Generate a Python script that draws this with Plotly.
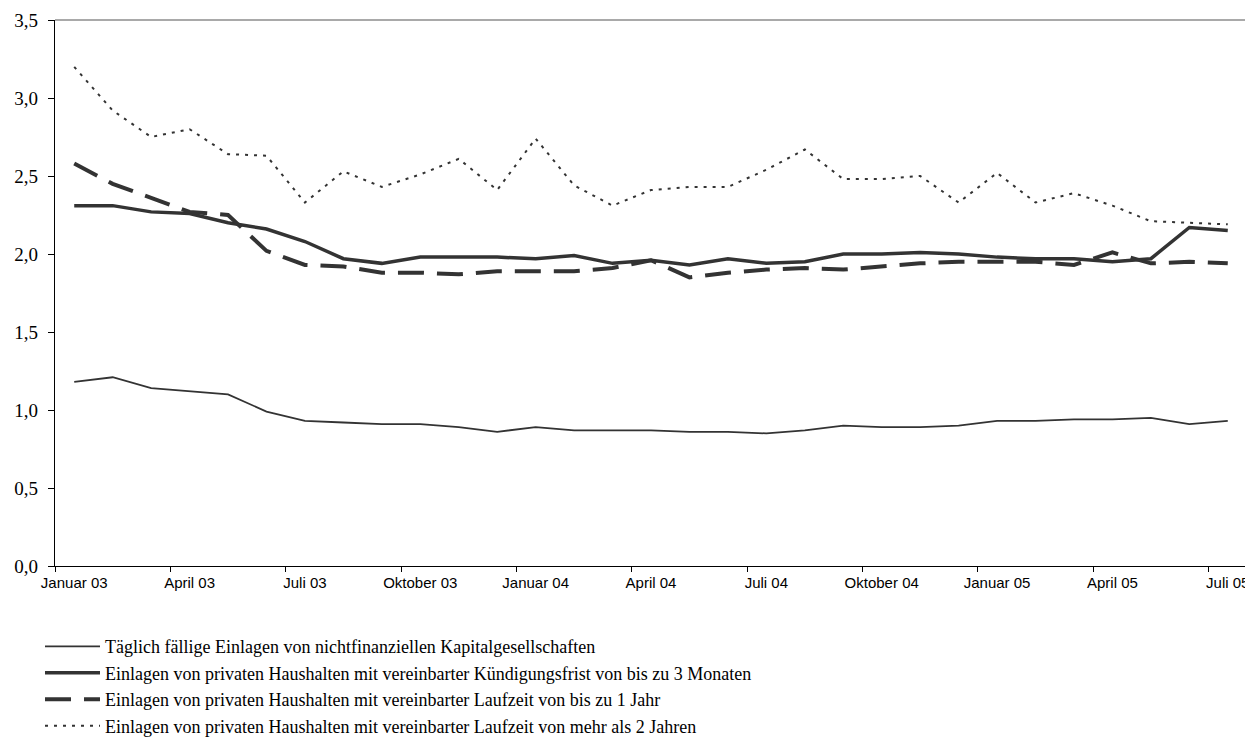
import plotly.graph_objects as go

months = ["Januar", "Februar", "März", "April", "Mai", "Juni", "Juli",
          "August", "September", "Oktober", "November", "Dezember"]
categories = [f"{m} {y:02d}" for y in (3, 4, 5) for m in months][:31]

names = [
    "Täglich fällige Einlagen von nichtfinanziellen Kapitalgesellschaften",
    "Einlagen von privaten Haushalten mit vereinbarter Kündigungsfrist von bis zu 3 Monaten",
    "Einlagen von privaten Haushalten mit vereinbarter Laufzeit von bis zu 1 Jahr",
    "Einlagen von privaten Haushalten mit vereinbarter Laufzeit von mehr als 2 Jahren",
]

taeglich = [1.18, 1.21, 1.14, 1.12, 1.10, 0.99, 0.93, 0.92, 0.91, 0.91, 0.89,
            0.86, 0.89, 0.87, 0.87, 0.87, 0.86, 0.86, 0.85, 0.87, 0.90, 0.89,
            0.89, 0.90, 0.93, 0.93, 0.94, 0.94, 0.95, 0.91, 0.93]
kuendigung = [2.31, 2.31, 2.27, 2.26, 2.20, 2.16, 2.08, 1.97, 1.94, 1.98, 1.98,
              1.98, 1.97, 1.99, 1.94, 1.96, 1.93, 1.97, 1.94, 1.95, 2.00, 2.00,
              2.01, 2.00, 1.98, 1.97, 1.97, 1.95, 1.97, 2.17, 2.15]
laufzeit_1j = [2.58, 2.45, 2.36, 2.27, 2.25, 2.02, 1.93, 1.92, 1.88, 1.88, 1.87,
               1.89, 1.89, 1.89, 1.91, 1.96, 1.85, 1.88, 1.90, 1.91, 1.90, 1.92,
               1.94, 1.95, 1.95, 1.95, 1.93, 2.01, 1.94, 1.95, 1.94]
laufzeit_2j = [3.20, 2.92, 2.75, 2.80, 2.64, 2.63, 2.33, 2.53, 2.43, 2.51, 2.61,
               2.41, 2.74, 2.44, 2.31, 2.41, 2.43, 2.43, 2.54, 2.67, 2.48, 2.48,
               2.50, 2.33, 2.52, 2.33, 2.39, 2.31, 2.21, 2.20, 2.19]

y_ticks = [0.0, 0.5, 1.0, 1.5, 2.0, 2.5, 3.0, 3.5]

series = [taeglich, kuendigung, laufzeit_1j, laufzeit_2j]
styles = [
    dict(width=1.8, dash="solid"),
    dict(width=3.5, dash="solid"),
    dict(width=4, dash="26px,13px"),
    dict(width=2, dash="3px,6px"),
]
color = "#333333"

fig = go.Figure()
for name, vals, st in zip(names, series, styles):
    fig.add_trace(go.Scatter(
        x=categories, y=vals, name=name, mode="lines",
        line=dict(color=color, width=st["width"], dash=st["dash"]),
        hoverinfo="x+y",
    ))

fig.update_layout(
    width=1245, height=734,
    margin=dict(l=47, r=6, t=12, b=176, autoexpand=False),
    separators=",.",
    plot_bgcolor="white", paper_bgcolor="white",
    showlegend=True,
    legend=dict(
        xref="container", yref="container",
        x=0.0257, y=0.155, xanchor="left", yanchor="top",
        font=dict(family="Liberation Serif", size=18, color="black"),
        bgcolor="rgba(0,0,0,0)", tracegroupgap=0, itemwidth=55,
    ),
    shapes=[
        dict(type="line", xref="paper", yref="paper", x0=0, x1=1, y0=1, y1=1,
             line=dict(color="#8c8c8c", width=1.5)),
        dict(type="line", xref="paper", yref="paper", x0=1, x1=1, y0=0, y1=1,
             line=dict(color="#8c8c8c", width=1.5)),
    ],
)

fig.update_xaxes(
    type="category", categoryorder="array", categoryarray=categories,
    range=[-0.5, 30.5], tickmode="linear", tick0=0, dtick=3,
    tickson="boundaries", ticks="outside", ticklen=5, tickcolor="black",
    showline=True, linecolor="black", linewidth=1.2,
    showgrid=False, zeroline=False, tickangle=0, ticklabelstandoff=3,
    tickfont=dict(family="Liberation Sans", size=15, color="black"),
)
fig.update_yaxes(
    range=[0, 3.5], tickmode="array", tickvals=y_ticks, tickformat=".1f",
    ticks="outside", ticklen=6, tickcolor="black",
    showline=True, linecolor="black", linewidth=1.2,
    showgrid=False, zeroline=False, ticklabelstandoff=6,
    tickfont=dict(family="Liberation Serif", size=19, color="black"),
)

fig.write_html("out.html")
